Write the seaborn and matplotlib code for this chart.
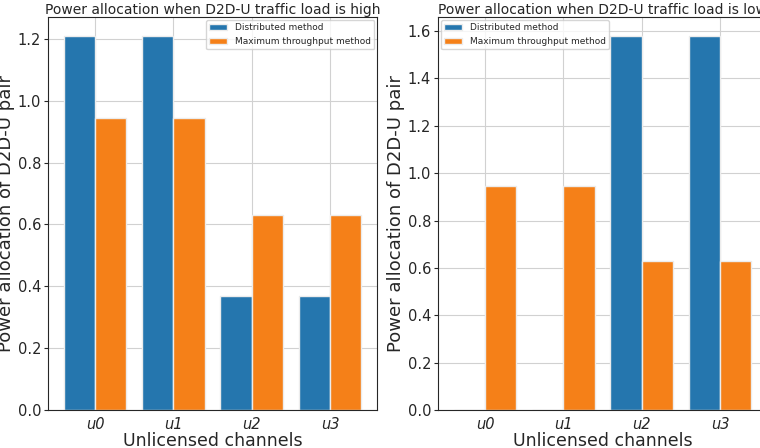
import pandas as pd
import numpy as np
import matplotlib
matplotlib.use("Agg")
import matplotlib.pyplot as plt
import seaborn as sns

sns.set_style("whitegrid", {"axes.edgecolor": ".15", "ytick.left": True,
                            "grid.color": ".82"})

channels = ['u0', 'u1', 'u2', 'u3']
methods = ['Distributed method', 'Maximum throughput method']

# load high
high_distributed = [1.21, 1.21, 0.37, 0.37]
high_maxthroughput = [0.945, 0.945, 0.63, 0.63]
# load low
low_distributed = [0.0, 0.0, 1.58, 1.58]
low_maxthroughput = [0.945, 0.945, 0.63, 0.63]

def make_df(dist, maxt):
    return pd.DataFrame({
        'channel': channels * 2,
        'power': dist + maxt,
        'method': [methods[0]] * 4 + [methods[1]] * 4,
    })

df_high = make_df(high_distributed, high_maxthroughput)
df_low = make_df(low_distributed, low_maxthroughput)

colors = ['#1f77b4', '#ff7f0e']

fig = plt.figure(figsize=(7.6, 4.48), dpi=100)
ax1 = fig.add_axes([0.0632, 0.0848, 0.4329, 0.8772])
ax2 = fig.add_axes([0.5763, 0.0848, 0.4329, 0.8772])

panels = [
    (ax1, df_high, "Power allocation when D2D-U traffic load is high", 'upper right'),
    (ax2, df_low, "Power allocation when D2D-U traffic load is low", 'upper left'),
]

for ax, df, title, loc in panels:
    sns.barplot(data=df, x='channel', y='power', hue='method', palette=colors,
                saturation=0.92, edgecolor='#ececec', linewidth=1, ax=ax)
    ax.set_xlim(-0.6, 3.6)
    ax.set_title(title, fontsize=10, pad=2)
    ax.set_xlabel("Unlicensed channels", fontsize=12.5, labelpad=0)
    ax.set_ylabel("Power allocation of D2D-U pair", fontsize=13, labelpad=2)
    ax.tick_params(axis='both', labelsize=10.5, length=3, pad=2)
    for lab in ax.get_xticklabels():
        lab.set_fontstyle('italic')
    ax.grid(True, axis='both')
    ax.set_axisbelow(True)
    ax.legend(loc=loc, fontsize=6.5, borderaxespad=0.3, frameon=True)

fig.savefig("out.png", dpi=100)
